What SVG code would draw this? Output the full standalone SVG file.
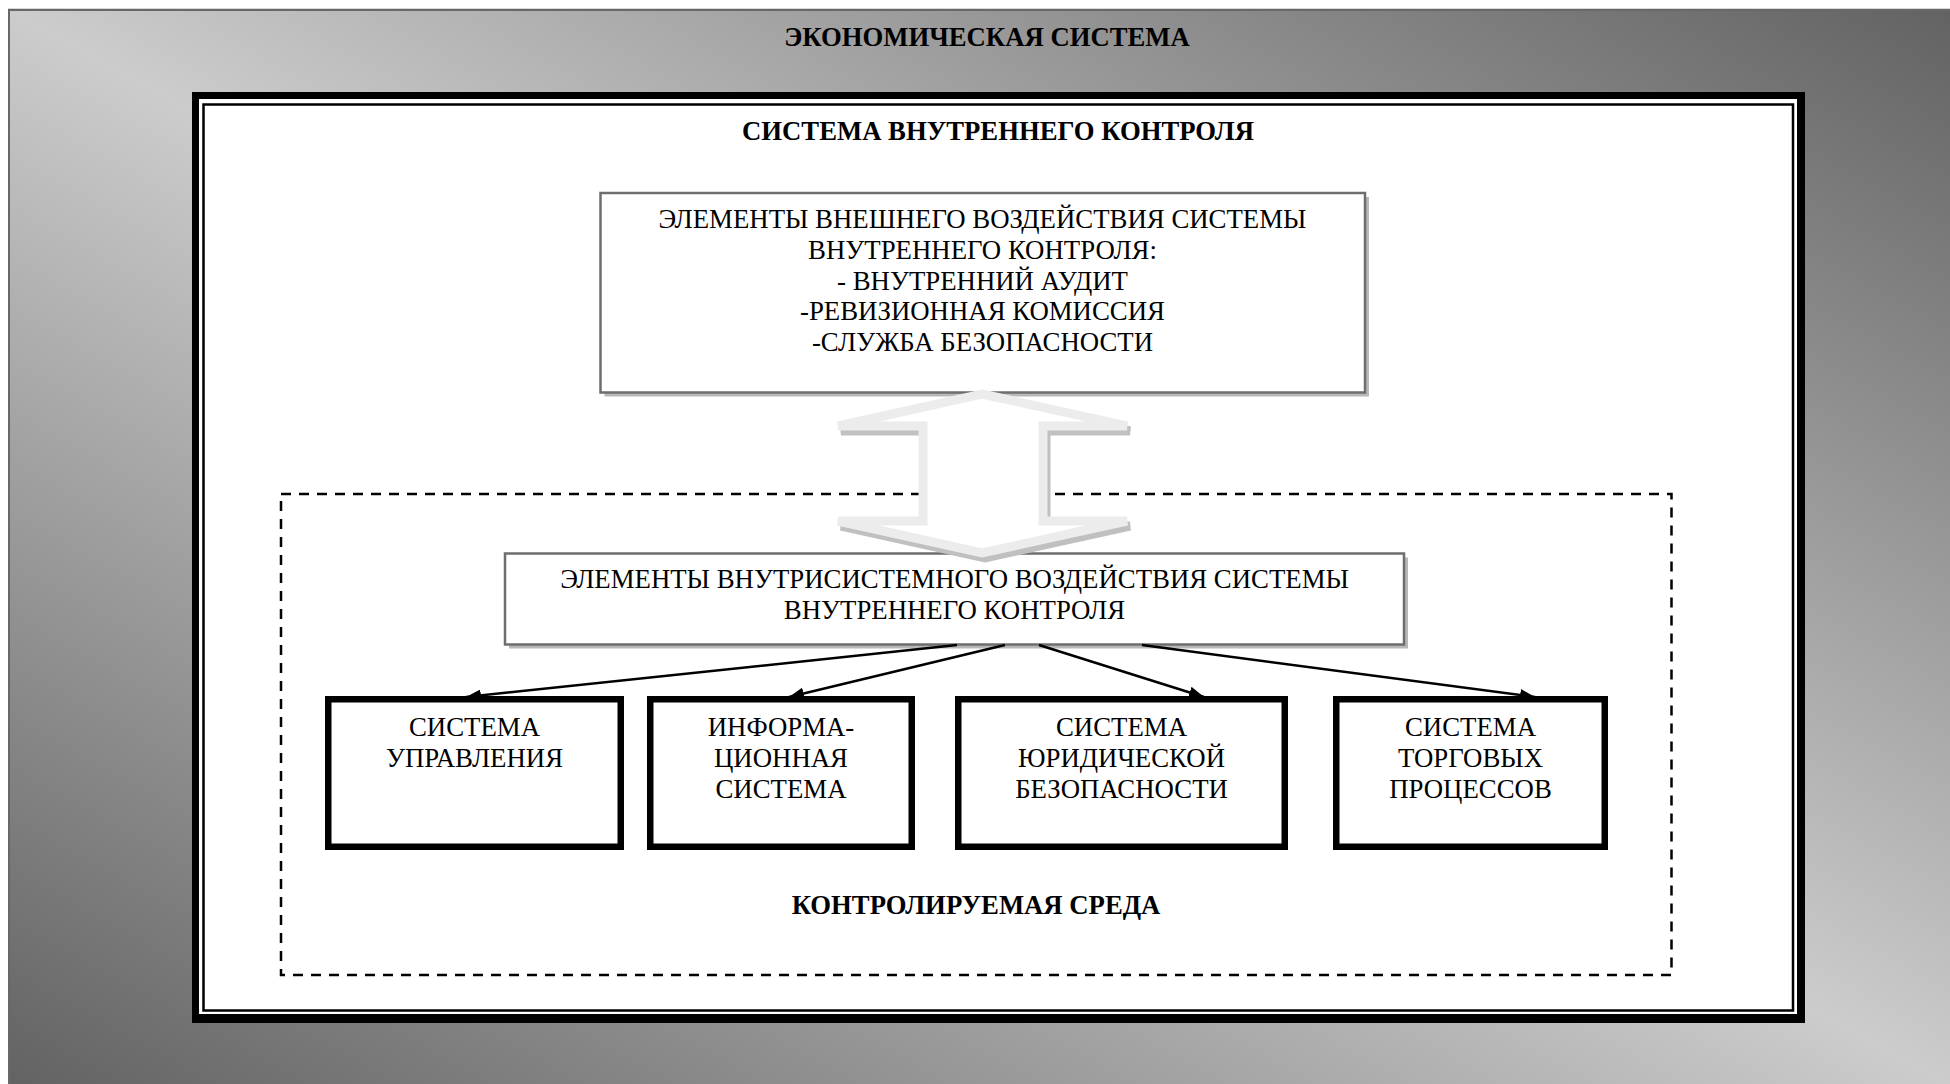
<svg xmlns="http://www.w3.org/2000/svg" width="1950" height="1084" viewBox="0 0 1950 1084">
  <defs>
    <linearGradient id="bgGrad" x1="1" y1="0" x2="0" y2="1">
      <stop offset="0" stop-color="#626262"/>
      <stop offset="0.5" stop-color="#cccccc"/>
      <stop offset="1" stop-color="#626262"/>
    </linearGradient>
    <marker id="arrowHead" markerUnits="userSpaceOnUse" markerWidth="16" markerHeight="12" refX="15" refY="6" orient="auto">
      <path d="M0,0 L15,6 L0,12 z" fill="#000"/>
    </marker>
  </defs>
  <style>
    .title { font-family: "Liberation Serif", "Times New Roman", serif; font-weight: bold; font-size: 26.7px; fill: #000; text-anchor: middle; }
    .label { font-family: "Liberation Serif", "Times New Roman", serif; font-size: 26.8px; fill: #000; text-anchor: middle; }
    .softbox { fill: #fff; stroke: #6e6e6e; stroke-width: 2.5; }
    .softshadow { fill: #b8b8b8; }
    .heavybox { fill: #fff; stroke: #000; stroke-width: 6.5; }
    .link { stroke: #000; stroke-width: 2.5; fill: none; marker-end: url(#arrowHead); }
  </style>

  <!-- page background -->
  <rect x="0" y="0" width="1950" height="1084" fill="#fff"/>
  <line x1="8" y1="8.5" x2="1950" y2="8.5" stroke="#d8d8d8" stroke-width="1"/>

  <!-- economic system field -->
  <g id="economic-system">
    <rect x="9" y="10" width="1950" height="1080" fill="url(#bgGrad)" stroke="#686868" stroke-width="2"/>
    <text class="title" x="987" y="46">ЭКОНОМИЧЕСКАЯ СИСТЕМА</text>
  </g>

  <!-- internal control system frame (double border) -->
  <g id="internal-control-system">
    <rect x="192" y="92" width="1613" height="931" fill="#000"/>
    <rect x="199" y="99" width="1598" height="915" fill="#fff"/>
    <rect x="203.5" y="104.5" width="1589.5" height="906" fill="#fff" stroke="#000" stroke-width="2.5"/>
    <text class="title" x="998" y="139.5">СИСТЕМА ВНУТРЕННЕГО КОНТРОЛЯ</text>
  </g>

  <!-- controlled environment -->
  <g id="controlled-environment">
    <rect x="281" y="494" width="1390.5" height="481" fill="none" stroke="#000" stroke-width="2.5" stroke-dasharray="10 8"/>
    <text class="title" x="976" y="914">КОНТРОЛИРУЕМАЯ СРЕДА</text>
  </g>

  <!-- external influence elements -->
  <g id="external-elements">
    <rect class="softshadow" x="604.5" y="197" width="764.5" height="199.5"/>
    <rect class="softbox" x="600.5" y="193" width="764.5" height="199.5"/>
    <text class="label" x="982.5" y="227.5">ЭЛЕМЕНТЫ ВНЕШНЕГО ВОЗДЕЙСТВИЯ СИСТЕМЫ</text>
    <text class="label" x="982.5" y="258.5">ВНУТРЕННЕГО КОНТРОЛЯ:</text>
    <text class="label" x="982.5" y="289.5">- ВНУТРЕННИЙ АУДИТ</text>
    <text class="label" x="982.5" y="320">-РЕВИЗИОННАЯ КОМИССИЯ</text>
    <text class="label" x="982.5" y="351">-СЛУЖБА БЕЗОПАСНОСТИ</text>
  </g>

  <!-- intra-system influence elements -->
  <g id="intra-system-elements">
    <rect class="softshadow" x="509" y="557.5" width="899" height="91"/>
    <rect class="softbox" x="505" y="553.5" width="899" height="91"/>
    <text class="label" x="954.5" y="588">ЭЛЕМЕНТЫ ВНУТРИСИСТЕМНОГО ВОЗДЕЙСТВИЯ СИСТЕМЫ</text>
    <text class="label" x="954.5" y="619">ВНУТРЕННЕГО КОНТРОЛЯ</text>
  </g>

  <!-- two-way block arrow between the two element groups -->
  <g id="exchange-arrow">
    <polygon points="985,399 1130,431 1046,431 1046,526 1130,526 985,558 841,526 926,526 926,431 841,431" fill="#c0c0c0" stroke="#c0c0c0" stroke-width="9" stroke-linejoin="miter"/>
    <polygon points="982,394 1127,426 1043,426 1043,521 1127,521 982,553 838,521 923,521 923,426 838,426" fill="#fff" stroke="#ececec" stroke-width="9" stroke-linejoin="miter"/>
  </g>

  <!-- subsystems -->
  <g id="management-system">
    <rect class="heavybox" x="328.25" y="699.25" width="292.5" height="147.5"/>
    <text class="label" x="474.5" y="736">СИСТЕМА</text>
    <text class="label" x="474.5" y="767">УПРАВЛЕНИЯ</text>
  </g>
  <g id="information-system">
    <rect class="heavybox" x="650.25" y="699.25" width="261.5" height="147.5"/>
    <text class="label" x="781" y="736">ИНФОРМА-</text>
    <text class="label" x="781" y="767">ЦИОННАЯ</text>
    <text class="label" x="781" y="798">СИСТЕМА</text>
  </g>
  <g id="legal-security-system">
    <rect class="heavybox" x="958.25" y="699.25" width="326.5" height="147.5"/>
    <text class="label" x="1121.5" y="736">СИСТЕМА</text>
    <text class="label" x="1121.5" y="767">ЮРИДИЧЕСКОЙ</text>
    <text class="label" x="1121.5" y="798">БЕЗОПАСНОСТИ</text>
  </g>
  <g id="trade-process-system">
    <rect class="heavybox" x="1336.25" y="699.25" width="268.5" height="147.5"/>
    <text class="label" x="1470.5" y="736">СИСТЕМА</text>
    <text class="label" x="1470.5" y="767">ТОРГОВЫХ</text>
    <text class="label" x="1470.5" y="798">ПРОЦЕССОВ</text>
  </g>

  <!-- connectors -->
  <g id="connectors">
    <line class="link" x1="957" y1="645" x2="466" y2="697"/>
    <line class="link" x1="1005" y1="645" x2="789" y2="697"/>
    <line class="link" x1="1039" y1="645" x2="1204" y2="697"/>
    <line class="link" x1="1142" y1="645" x2="1535" y2="697"/>
  </g>
</svg>
